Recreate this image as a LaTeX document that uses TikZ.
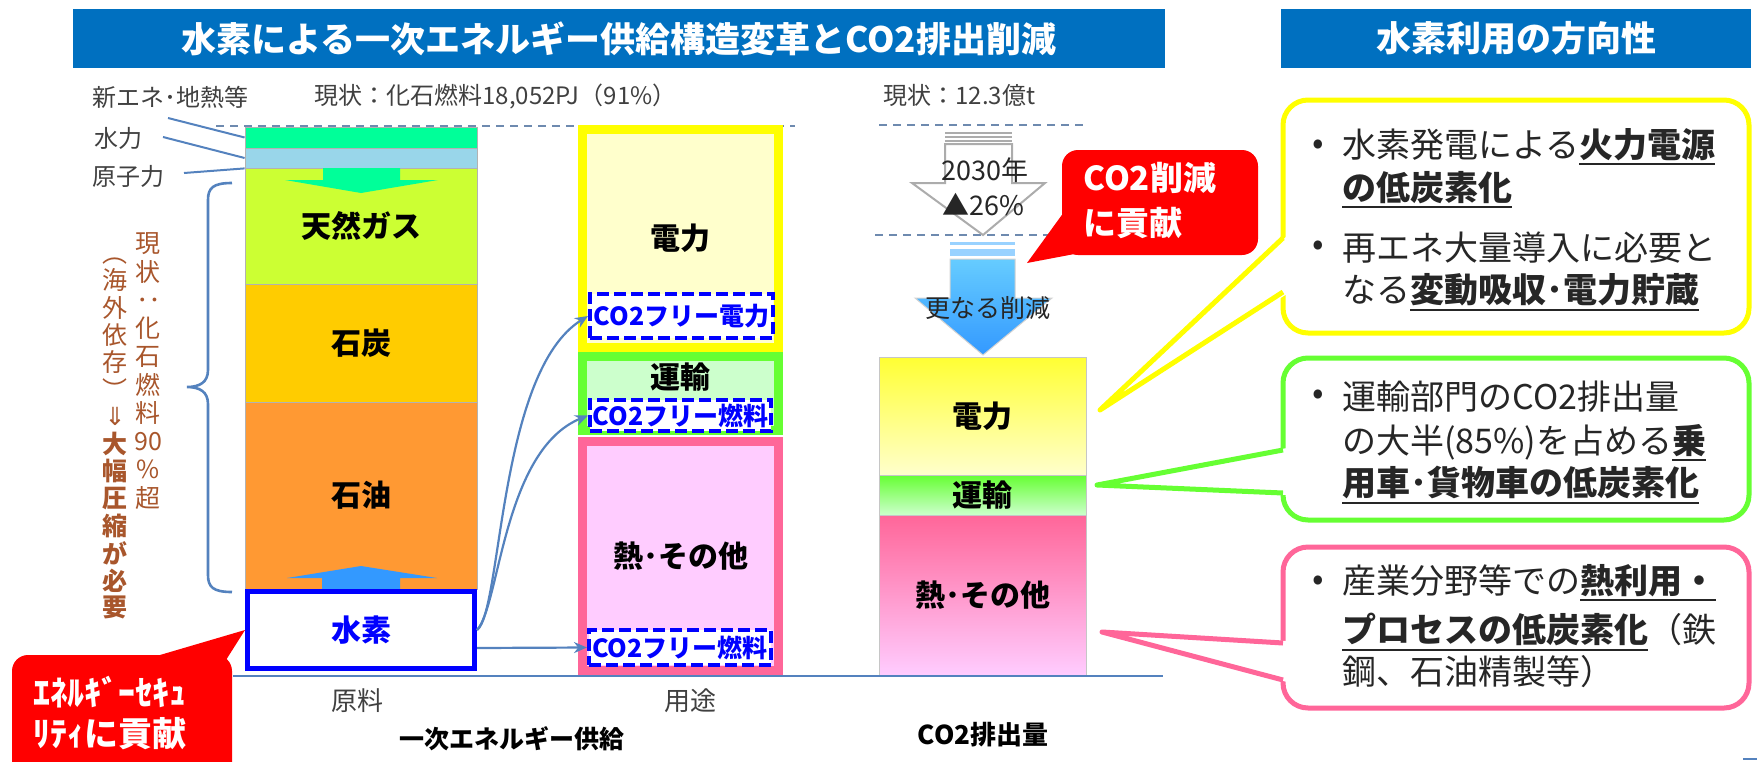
\documentclass[tikz,border=0pt]{standalone}
\usepackage{fontspec}
\setmainfont{Noto Sans CJK JP}
\newfontfamily\djv{DejaVu Sans}
\usetikzlibrary{arrows.meta}
\definecolor{tblue}{RGB}{0,112,192}
\definecolor{lnk}{RGB}{84,130,190}
\definecolor{dsh}{RGB}{110,138,175}
\definecolor{cshin}{RGB}{0,255,153}
\definecolor{chyd}{RGB}{153,214,234}
\definecolor{cgas}{RGB}{204,255,51}
\definecolor{ccoal}{RGB}{255,204,0}
\definecolor{coil}{RGB}{255,153,51}
\definecolor{cup}{RGB}{51,153,255}
\definecolor{cyel}{RGB}{255,255,0}
\definecolor{cyelb}{RGB}{255,255,51}
\definecolor{cyelf}{RGB}{255,255,204}
\definecolor{cgrn}{RGB}{102,255,51}
\definecolor{cgrnf}{RGB}{204,255,204}
\definecolor{cpnk}{RGB}{255,102,153}
\definecolor{cpnkf}{RGB}{255,204,255}
\definecolor{cbrn}{RGB}{168,86,44}
\definecolor{ctxt}{RGB}{38,38,38}
\definecolor{cgry}{RGB}{64,64,64}
\definecolor{cred}{RGB}{255,0,0}
\definecolor{cblu}{RGB}{0,0,255}
\definecolor{clbA}{RGB}{102,204,255}
\definecolor{clbB}{RGB}{51,153,255}
\definecolor{clbS}{RGB}{153,210,255}
\newcommand\myul[1]{\leavevmode\vtop{\hbox{#1}\kern1.2pt\hrule height 1pt}}
\tikzset{
 titlebar/.style={fill=tblue, text=white, font=\fontsize{17.5}{20}\selectfont\bfseries, inner sep=0},
 lab/.style={text=cgry, font=\fontsize{12}{14}\selectfont, inner sep=0},
 seg/.style={draw=gray!60, line width=0.4pt, inner sep=0, minimum width=116pt, font=\fontsize{15}{18}\selectfont\bfseries, text=black},
 midbox/.style={line width=4.5pt, inner sep=0, minimum width=98pt, font=\fontsize{15}{18}\selectfont\bfseries},
 dbox/.style={draw=cblu, dash pattern=on 6pt off 2.5pt, line width=2pt, fill=white, text=cblu, inner sep=0, font=\fontsize{12.5}{14}\selectfont\bfseries},
 cbar/.style={draw=gray!45, line width=0.5pt, inner sep=0, minimum width=103.5pt, font=\fontsize{15}{18}\selectfont\bfseries},
 conn/.style={draw=lnk, line width=1.1pt, -{Stealth[length=6.5pt,width=5.5pt]}},
 lead/.style={draw=lnk, line width=1pt},
 dashln/.style={draw=dsh, line width=1pt, dash pattern=on 4pt off 3pt},
 vtxt/.style={text=cbrn, font=\fontsize{12.5}{14}\selectfont, inner sep=0},
 redtxt/.style={text=white, font=\fontsize{17}{20}\selectfont\bfseries, inner sep=0, anchor=west},
 ctext/.style={text=ctxt, font=\fontsize{17}{20}\selectfont, inner sep=0, anchor=west},
 blab/.style={text=black, font=\fontsize{12.5}{14}\selectfont\bfseries, inner sep=0},
 callout/.style={line width=2.5pt, fill=white, rounded corners=12.5pt},
}
\begin{document}
\begin{tikzpicture}[x=0.5pt,y=-0.5pt]
\useasboundingbox (0,0) rectangle (1757,761);
\clip (0,0) rectangle (1757,761);

% ---- titles
\node[titlebar, minimum width=546pt, minimum height=29.5pt] (t1) at (619,38.5) {水素による一次エネルギー供給構造変革とCO2排出削減};
\node[titlebar, minimum width=235pt, minimum height=29.5pt] (t2) at (1516,38.5) {水素利用の方向性};

% ---- top labels
\node[lab, anchor=west] (lshin) at (92,97) {新エネ･地熱等};
\node[lab, anchor=west] (lhyd) at (94,138) {水力};
\node[lab, anchor=west] (lnuc) at (92,176) {原子力};
\node[lab, anchor=west] (lcur) at (314,97) {現状：化石燃料18,052PJ（91\%）};
\node[lab, anchor=west] (lco2) at (883,95) {現状：12.3億t};

% ---- dashed guide lines
\draw[dashln] (216,126) -- (795,126);
\draw[dashln] (879,125) -- (1087,125);
\draw[dashln] (875,235) -- (1083,235);

% ---- left stacked bar
\node[seg, fill=cshin, minimum height=10.5pt] (shin) at (361,137.5) {};
\node[seg, fill=chyd, minimum height=10pt] (hyd) at (361,158) {};
\node[seg, fill=cgas, minimum height=58pt] (gas) at (361,226) {天然ガス};
\node[seg, fill=ccoal, minimum height=59pt] (coal) at (361,343) {石炭};
\node[seg, fill=coil, minimum height=93.5pt] (oil) at (361,495.5) {石油};
\fill[cshin] (323,168) -- (323,180) -- (285,180) -- (361,193) -- (438,180) -- (400,180) -- (400,168) -- cycle;
\fill[cup] (322,590) -- (322,578) -- (287,578) -- (361,566) -- (437,578) -- (400,578) -- (400,590) -- cycle;
\node[draw=cblu, line width=2.5pt, fill=white, inner sep=0, minimum width=113.5pt, minimum height=38.5pt, text=cblu, font=\fontsize{15}{18}\selectfont\bfseries] (h2) at (361,630) {水素};

% leader lines
\coordinate (ls1) at (168,118);
\coordinate (ls2) at (163,137);
\coordinate (ls3) at (184,173);
\draw[lead] (ls1) -- (shin.west);
\draw[lead] (ls2) -- (hyd.west);
\draw[lead] (ls3) -- (hyd.south west);

% brace
\draw[lead, line width=1.3pt] (232,183) .. controls (213,183) and (208,188) .. (208,200) -- (208,370) .. controls (208,382) and (200,387) .. (187,387) .. controls (200,387) and (208,392) .. (208,404) -- (208,575) .. controls (208,587) and (213,592) .. (232,592);

% vertical texts
\foreach \c [count=\i from 0] in {現,状,{\rotatebox{-90}{：}},化,石,燃,料,90,\%,超}
  \node[vtxt] (vr\i) at (148,244+\i*28.2) {\c};
\foreach \c [count=\i from 0] in {{\rotatebox{-90}{（}},海,外,依,存,{\rotatebox{-90}{）}},{\djv ⇓},{\bfseries 大},{\bfseries 幅},{\bfseries 圧},{\bfseries 縮},{\bfseries が},{\bfseries 必},{\bfseries 要}}
  \node[vtxt] (vl\i) at (115,253+\i*27.3) {\c};

% red callout (left)
\coordinate (rl1) at (143,660);
\coordinate (rl2) at (226,660);
\fill[cred] (rl1) -- (h2.west) -- (rl2) -- cycle;
\node[fill=cred, rounded corners=8pt, minimum width=110pt, minimum height=75pt, inner sep=0] (rsec) at (122,730) {};
\node[redtxt] (rs1) at (33,692) {ｴﾈﾙｷﾞｰｾｷｭ};
\node[redtxt] (rs2) at (33,734) {ﾘﾃｨに貢献};

% ---- middle column
\node[midbox, draw=cyel, fill=cyelf, minimum height=109pt] (pw) at (680.5,238.5) {電力};
\node[midbox, draw=cgrn, fill=cgrnf, minimum height=37pt] (tr) at (680.5,393.5) {};
\node[font=\fontsize{15}{18}\selectfont\bfseries, inner sep=0] (trl) at (680.5,377) {運輸};
\node[midbox, draw=cpnk, fill=cpnkf, minimum height=114.5pt, font=\fontsize{15}{17}\selectfont\bfseries] (ht) at (680.5,556) {熱･その他};
\node[dbox, minimum width=91.5pt, minimum height=22pt] (cfp) at (681.5,316) {CO2フリー電力};
\node[dbox, minimum width=90.5pt, minimum height=15.5pt] (cff1) at (680.5,415.5) {CO2フリー燃料};
\node[dbox, minimum width=91pt, minimum height=17.5pt] (cff2) at (680,647.5) {CO2フリー燃料};

% connectors from hydrogen
\draw[conn] (h2.east) .. controls (502,612) and (498,372) .. (cfp.west);
\draw[conn] (h2.east) .. controls (500,605) and (503,450) .. (cff1.west);
\draw[conn] ([yshift=-9pt]h2.east) -- (cff2.west);

% ---- CO2 column arrows
\foreach \yy in {133,137,141} \fill[gray!65] (945,\yy-1) rectangle (1012,\yy+1);
\draw[gray!65, line width=1pt, fill=white] (945,144) -- (1012,144) -- (1012,183) -- (1045,183) -- (983,235) -- (912,183) -- (945,183) -- cycle;
\node[text=ctxt, font=\fontsize{13.5}{16}\selectfont, inner sep=0] (y2030) at (985,170) {2030年};
\node[text=ctxt, font=\fontsize{13.5}{16}\selectfont, inner sep=0] (p26) at (983,205) {▲26\%};
\fill[clbS] (950,242) rectangle (1015,245);
\fill[clbS] (950,249) rectangle (1015,256);
\shade[top color=clbA, bottom color=clbB, draw=gray!35, line width=0.5pt] (950,259) -- (1015,259) -- (1015,298) -- (1052,298) -- (983,355) -- (915,298) -- (950,298) -- cycle;
\node[text=ctxt, font=\fontsize{12.5}{15}\selectfont, inner sep=0] (more) at (988,308) {更なる削減};

% CO2 bars
\node[cbar, top color=cyelb, bottom color=cyelf, minimum height=59pt] (ce) at (982.5,416) {電力};
\node[cbar, top color=cgrn, bottom color=cgrnf, minimum height=20pt] (ct) at (982.5,495) {運輸};
\node[cbar, top color=cpnk, bottom color=cpnkf, minimum height=80pt, font=\fontsize{15}{17}\selectfont\bfseries] (chh) at (982.5,595) {熱･その他};

% red callout CO2
\coordinate (rc1) at (1064,212);
\coordinate (rc2) at (1085,252);
\coordinate (rct) at (1027,263);
\fill[cred] (rc1) -- (rct) -- (rc2) -- cycle;
\node[fill=cred, rounded corners=8pt, minimum width=98pt, minimum height=52.5pt, inner sep=0] (rc) at (1160,202.5) {};
\node[redtxt, font=\fontsize{16.5}{20}\selectfont\bfseries] (rct1) at (1083,178) {CO2削減};
\node[redtxt, font=\fontsize{16.5}{20}\selectfont\bfseries] (rct2) at (1083,223) {に貢献};

% base line
\coordinate (bl1) at (233,676);
\coordinate (bl2) at (1163,676);
\draw[draw=lnk, line width=1pt] (bl1) -- (bl2);

% bottom labels
\node[lab, font=\fontsize{13}{15}\selectfont] (lraw) at (357,701) {原料};
\node[lab, font=\fontsize{13}{15}\selectfont] (luse) at (690,701) {用途};
\node[blab] (lsup) at (512,739) {一次エネルギー供給};
\node[blab, font=\fontsize{13}{15}\selectfont\bfseries] (lemi) at (983,735) {CO2排出量};

% ---- right callouts
% yellow
\draw[cyel, callout] (1283,100) rectangle (1749,333);
\fill[white] (1287,236) -- (1100,410) -- (1287,294) -- cycle;
\coordinate (ya) at (1283,238); \coordinate (yt) at (1100,410); \coordinate (yb) at (1283,292);
\draw[cyel, line width=2.5pt, line join=round] (ya) -- (yt) -- (yb);
\node[ctext] (yb1) at (1312,147) {•};
\node[ctext] (y1) at (1342,147) {水素発電による\myul{\bfseries 火力電源}};
\node[ctext] (y2) at (1342,190) {\myul{\bfseries の低炭素化}};
\node[ctext] (yb2) at (1312,248) {•};
\node[ctext] (y3) at (1342,248) {再エネ大量導入に必要と};
\node[ctext] (y4) at (1342,292) {なる\myul{\bfseries 変動吸収･電力貯蔵}};
% green
\draw[cgrn, callout] (1283,358) rectangle (1749,520);
\fill[white] (1287,448) -- (1097,485) -- (1287,495) -- cycle;
\coordinate (ga) at (1283,450); \coordinate (gt) at (1097,485); \coordinate (gb) at (1283,493);
\draw[cgrn, line width=2.5pt, line join=round] (ga) -- (gt) -- (gb);
\node[ctext] (gb1) at (1312,397) {•};
\node[ctext] (g1) at (1342,397) {運輸部門のCO2排出量};
\node[ctext] (g2) at (1342,443) {の大半(85\%)を占める\myul{\bfseries 乗}};
\node[ctext] (g3) at (1342,485) {\myul{\bfseries 用車･貨物車の低炭素化}};
% pink
\draw[cpnk, callout] (1283,547) rectangle (1749,708);
\fill[white] (1287,641) -- (1102,632) -- (1287,682) -- cycle;
\coordinate (pa) at (1283,643); \coordinate (pt) at (1102,632); \coordinate (pb) at (1283,680);
\draw[cpnk, line width=2.5pt, line join=round] (pa) -- (pt) -- (pb);
\node[ctext] (pb1) at (1312,583) {•};
\node[ctext] (p1) at (1342,583) {産業分野等での\myul{\bfseries 熱利用・}};
\node[ctext] (p2) at (1342,632) {\myul{\bfseries プロセスの低炭素化}（鉄};
\node[ctext] (p3) at (1342,672) {鋼、石油精製等）};

% tiny mark bottom right
\coordinate (m1) at (1743,759); \coordinate (m2) at (1757,759);
\draw[lnk, line width=1pt] (m1) -- (m2);
\end{tikzpicture}
\end{document}
